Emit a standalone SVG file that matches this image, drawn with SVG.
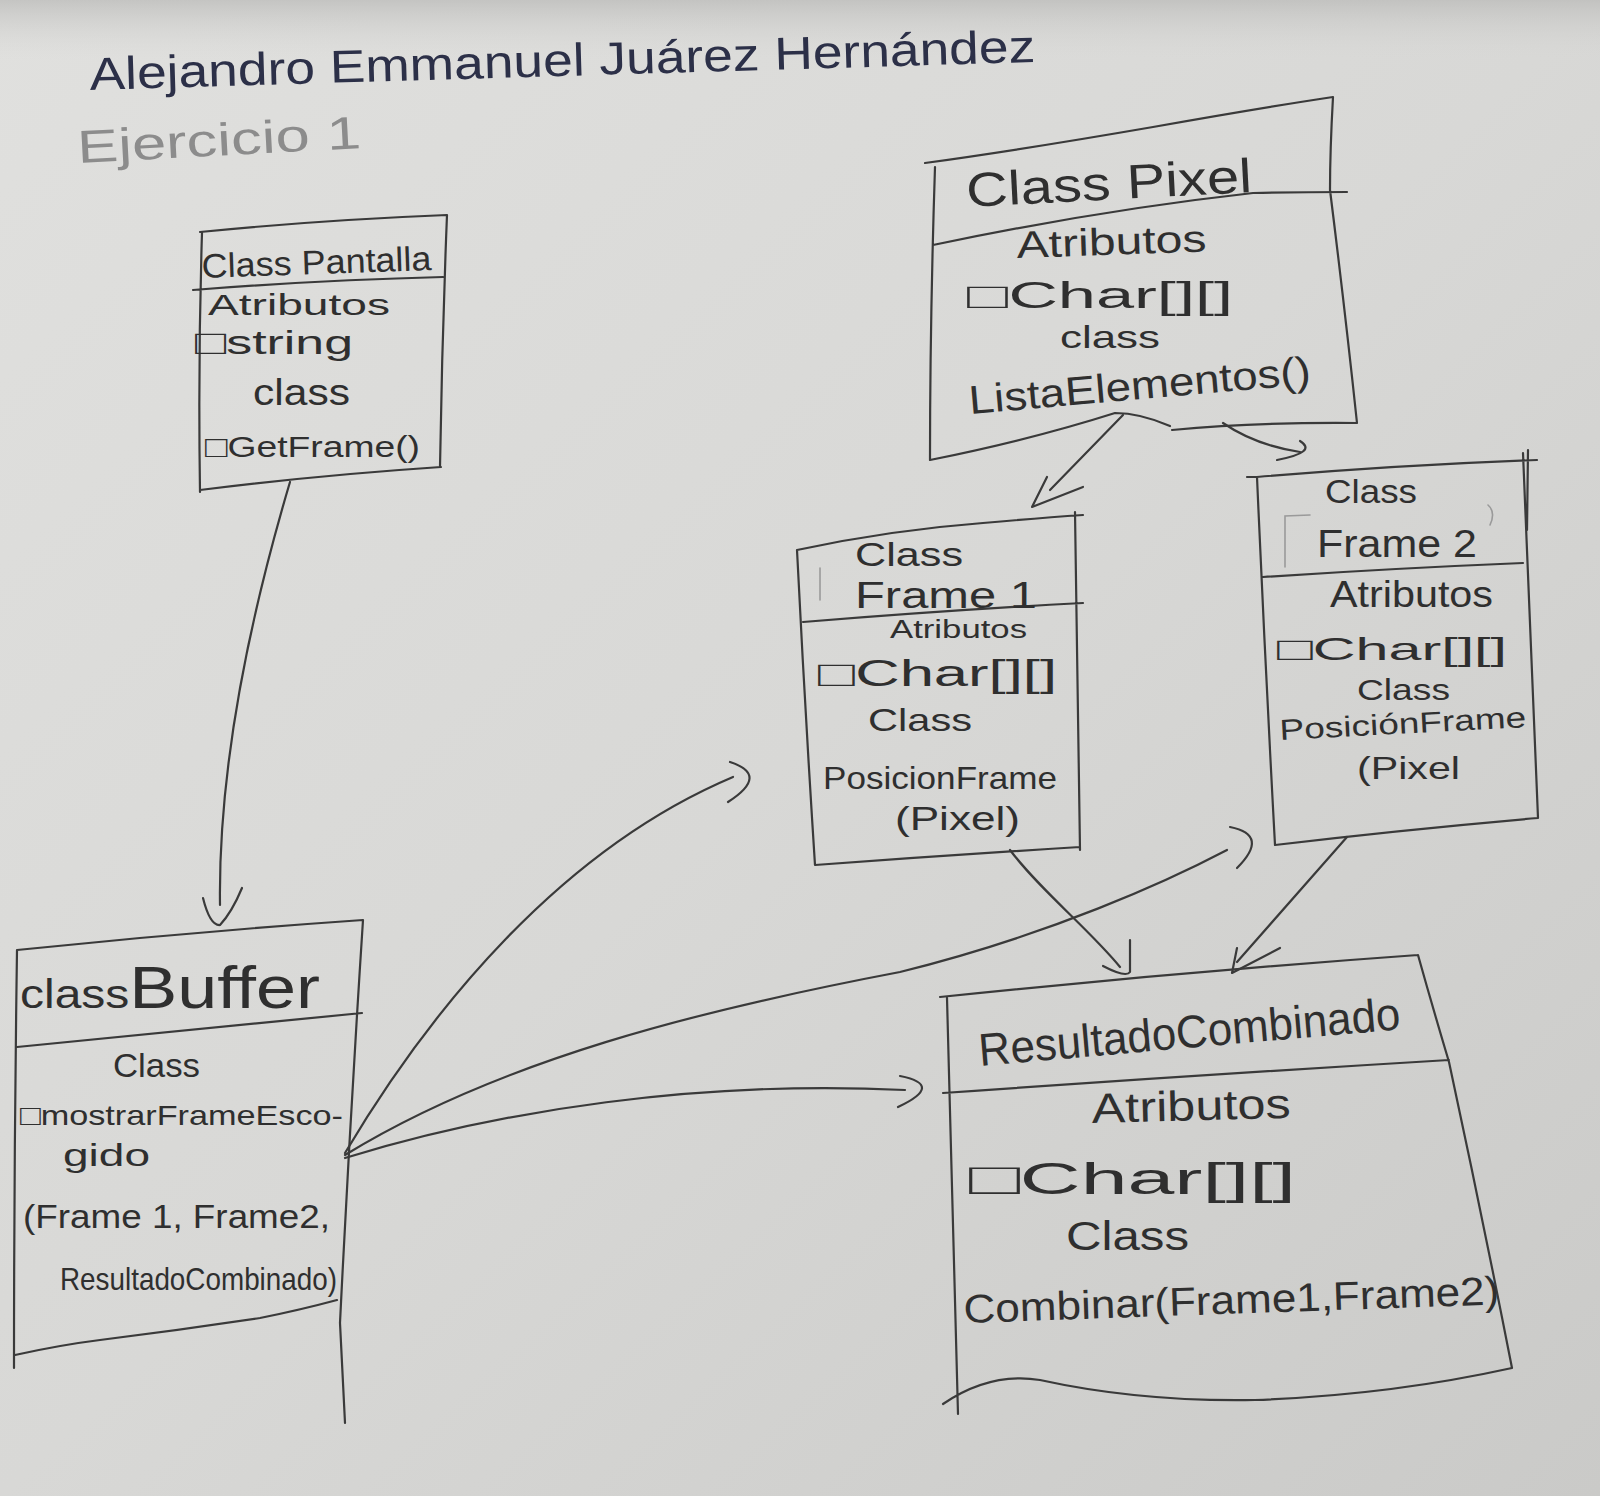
<svg xmlns="http://www.w3.org/2000/svg" width="1600" height="1496" viewBox="0 0 1600 1496">
  <defs>
    <linearGradient id="paper" x1="0" y1="0" x2="1" y2="1">
      <stop offset="0" stop-color="#e0e0de"/>
      <stop offset="0.5" stop-color="#d8d8d6"/>
      <stop offset="1" stop-color="#cacac8"/>
    </linearGradient>
    <linearGradient id="shade" x1="0" y1="0" x2="0" y2="1">
      <stop offset="0" stop-color="#b9b9b7" stop-opacity="0.7"/>
      <stop offset="1" stop-color="#d8d8d6" stop-opacity="0"/>
    </linearGradient>
    <style>
      .ln { fill: none; stroke: #3a3a3a; stroke-width: 2.2; stroke-linecap: round; stroke-linejoin: round; }
      .faint { fill: none; stroke: #9a9a9a; stroke-width: 1.6; stroke-linecap: round; }
      .tx { font-family: "Liberation Sans", "DejaVu Sans", sans-serif; fill: #2f2f2f; }
      .title { font-family: "Liberation Sans", "DejaVu Sans", sans-serif; fill: #2c3048; }
      .pencil { font-family: "Liberation Sans", "DejaVu Sans", sans-serif; fill: #8c8c8c; }
    </style>
  </defs>

  <rect x="0" y="0" width="1600" height="1496" fill="url(#paper)"/>
  <rect x="0" y="0" width="1600" height="60" fill="url(#shade)"/>

  <!-- Header texts -->
  <g id="header">
    <text class="title" x="90" y="90" font-size="46" textLength="946" lengthAdjust="spacingAndGlyphs" transform="rotate(-1.7 90 90)">Alejandro Emmanuel Juárez Hernández</text>
    <text class="pencil" x="78" y="163" font-size="46" textLength="284" lengthAdjust="spacingAndGlyphs" transform="rotate(-3 78 163)">Ejercicio 1</text>
  </g>

  <!-- Class Pantalla -->
  <g id="pantalla">
    <path class="ln" d="M200,232 Q320,220 447,215 M202,233 Q198,360 200,492 M447,215 Q442,340 440,467 M200,490 Q320,475 441,467 M193,290 Q320,280 443,277"/>
    <text class="tx" x="202" y="278" font-size="34" textLength="230" lengthAdjust="spacingAndGlyphs" transform="rotate(-2 202 278)">Class Pantalla</text>
    <text class="tx" x="208" y="315" font-size="30" textLength="182" lengthAdjust="spacingAndGlyphs">Atributos</text>
    <text class="tx" x="195" y="354" font-size="34" textLength="158" lengthAdjust="spacingAndGlyphs">□string</text>
    <text class="tx" x="253" y="405" font-size="36" textLength="97" lengthAdjust="spacingAndGlyphs">class</text>
    <text class="tx" x="205" y="457" font-size="30" textLength="215" lengthAdjust="spacingAndGlyphs">□GetFrame()</text>
  </g>

  <!-- Class Pixel -->
  <g id="pixel">
    <path class="ln" d="M925,163 Q1020,150 1153,127 Q1260,108 1333,97 M935,167 Q930,320 930,460 M1333,97 Q1330,150 1330,190 Q1345,310 1357,423 M930,460 Q1030,440 1115,413 Q1140,413 1170,426 M1172,430 Q1260,422 1357,423 M933,245 Q1100,210 1253,193 Q1300,192 1347,192"/>
    <text class="tx" x="967" y="207" font-size="48" textLength="286" lengthAdjust="spacingAndGlyphs" transform="rotate(-3 967 207)">Class Pixel</text>
    <text class="tx" x="1017" y="258" font-size="38" textLength="190" lengthAdjust="spacingAndGlyphs" transform="rotate(-2 1017 258)">Atributos</text>
    <text class="tx" x="967" y="308" font-size="36" textLength="266" lengthAdjust="spacingAndGlyphs">□Char[][]</text>
    <text class="tx" x="1060" y="348" font-size="32" textLength="100" lengthAdjust="spacingAndGlyphs">class</text>
    <text class="tx" x="970" y="414" font-size="40" textLength="343" lengthAdjust="spacingAndGlyphs" transform="rotate(-5 970 414)">ListaElementos()</text>
  </g>

  <!-- Class Frame 1 -->
  <g id="frame1">
    <path class="ln" d="M797,550 Q890,530 983,523 Q1040,518 1083,515 M797,550 Q805,710 815,865 M1075,512 Q1078,680 1080,850 M815,865 Q950,855 1080,847 M803,622 Q950,610 1083,603"/>
    <path class="faint" d="M820,568 L820,600"/>
    <text class="tx" x="855" y="566" font-size="34" textLength="108" lengthAdjust="spacingAndGlyphs">Class</text>
    <text class="tx" x="855" y="608" font-size="36" textLength="182" lengthAdjust="spacingAndGlyphs">Frame 1</text>
    <text class="tx" x="890" y="638" font-size="26" textLength="137" lengthAdjust="spacingAndGlyphs">Atributos</text>
    <text class="tx" x="818" y="686" font-size="36" textLength="239" lengthAdjust="spacingAndGlyphs">□Char[][]</text>
    <text class="tx" x="868" y="731" font-size="32" textLength="104" lengthAdjust="spacingAndGlyphs">Class</text>
    <text class="tx" x="823" y="789" font-size="32" textLength="234" lengthAdjust="spacingAndGlyphs">PosicionFrame</text>
    <text class="tx" x="895" y="830" font-size="34" textLength="125" lengthAdjust="spacingAndGlyphs">(Pixel)</text>
  </g>

  <!-- Class Frame 2 -->
  <g id="frame2">
    <path class="ln" d="M1247,477 L1257,477 Q1400,465 1537,460 M1257,477 Q1265,660 1275,845 M1523,453 Q1530,640 1538,818 M1528,450 L1527,530 M1275,845 Q1400,830 1538,818 M1263,577 Q1400,568 1523,563"/>
    <path class="faint" d="M1285,567 L1285,516 L1310,515 M1488,505 Q1496,512 1490,525"/>
    <text class="tx" x="1325" y="503" font-size="34" textLength="92" lengthAdjust="spacingAndGlyphs">Class</text>
    <text class="tx" x="1317" y="557" font-size="38" textLength="160" lengthAdjust="spacingAndGlyphs">Frame 2</text>
    <text class="tx" x="1330" y="607" font-size="36" textLength="163" lengthAdjust="spacingAndGlyphs">Atributos</text>
    <text class="tx" x="1277" y="660" font-size="32" textLength="230" lengthAdjust="spacingAndGlyphs">□Char[][]</text>
    <text class="tx" x="1357" y="700" font-size="30" textLength="93" lengthAdjust="spacingAndGlyphs">Class</text>
    <text class="tx" x="1280" y="740" font-size="29" textLength="247" lengthAdjust="spacingAndGlyphs" transform="rotate(-3 1280 740)">PosiciónFrame</text>
    <text class="tx" x="1357" y="779" font-size="32" textLength="103" lengthAdjust="spacingAndGlyphs">(Pixel</text>
  </g>

  <!-- Class Buffer -->
  <g id="buffer">
    <path class="ln" d="M17,950 Q190,932 363,920 M17,950 Q14,1160 14,1368 M363,920 Q350,1120 340,1323 L345,1423 M15,1355 Q60,1345 100,1340 Q180,1330 260,1318 Q300,1310 337,1300 M17,1047 Q190,1030 362,1013"/>
    <text class="tx" x="20" y="1008" font-size="40" textLength="300" lengthAdjust="spacingAndGlyphs">class<tspan font-size="60">Buffer</tspan></text>
    <text class="tx" x="113" y="1077" font-size="34" textLength="87" lengthAdjust="spacingAndGlyphs">Class</text>
    <text class="tx" x="20" y="1125" font-size="28" textLength="323" lengthAdjust="spacingAndGlyphs">□mostrarFrameEsco-</text>
    <text class="tx" x="63" y="1166" font-size="32" textLength="87" lengthAdjust="spacingAndGlyphs">gido</text>
    <text class="tx" x="23" y="1228" font-size="34" textLength="307" lengthAdjust="spacingAndGlyphs">(Frame 1, Frame2,</text>
    <text class="tx" x="60" y="1290" font-size="32" textLength="277" lengthAdjust="spacingAndGlyphs">ResultadoCombinado)</text>
  </g>

  <!-- Resultado Combinado -->
  <g id="resultado">
    <path class="ln" d="M940,997 Q1180,972 1418,955 M947,998 Q952,1200 958,1414 M1418,955 Q1432,1005 1449,1062 Q1482,1215 1512,1368 M943,1404 Q990,1372 1040,1380 Q1140,1402 1255,1400 Q1390,1395 1512,1368 M943,1093 Q1200,1075 1449,1060"/>
    <text class="tx" x="980" y="1066" font-size="46" textLength="423" lengthAdjust="spacingAndGlyphs" transform="rotate(-5 980 1066)">ResultadoCombinado</text>
    <text class="tx" x="1092" y="1123" font-size="42" textLength="199" lengthAdjust="spacingAndGlyphs" transform="rotate(-1.5 1092 1123)">Atributos</text>
    <text class="tx" x="969" y="1194" font-size="44" textLength="327" lengthAdjust="spacingAndGlyphs">□Char[][]</text>
    <text class="tx" x="1066" y="1250" font-size="40" textLength="123" lengthAdjust="spacingAndGlyphs">Class</text>
    <text class="tx" x="964" y="1323" font-size="40" textLength="536" lengthAdjust="spacingAndGlyphs" transform="rotate(-2 964 1323)">Combinar(Frame1,Frame2)</text>
  </g>

  <!-- Connectors -->
  <g id="connectors">
    <!-- Pantalla -> Buffer -->
    <path class="ln" d="M290,482 C252,610 218,760 220,905"/>
    <path class="ln" d="M203,898 Q210,926 220,925 Q232,912 242,888"/>
    <!-- Pixel -> Frame 1 -->
    <path class="ln" d="M1123,415 L1050,490"/>
    <path class="ln" d="M1047,477 L1032,507 L1083,487"/>
    <!-- Pixel -> Frame 2 -->
    <path class="ln" d="M1223,423 Q1255,445 1300,452"/>
    <path class="ln" d="M1300,441 Q1318,452 1277,460"/>
    <!-- Buffer -> Frame 1 -->
    <path class="ln" d="M345,1153 C430,1010 560,850 733,777"/>
    <path class="ln" d="M730,762 Q770,775 728,802"/>
    <!-- Buffer -> Frame 2 -->
    <path class="ln" d="M345,1155 C500,1060 700,1010 900,972 C1050,935 1170,880 1227,850"/>
    <path class="ln" d="M1230,827 Q1270,835 1237,868"/>
    <!-- Buffer -> Resultado -->
    <path class="ln" d="M345,1158 C500,1110 700,1080 905,1090"/>
    <path class="ln" d="M900,1076 Q945,1085 898,1107"/>
    <!-- Frame 1 -> Resultado -->
    <path class="ln" d="M1010,850 C1040,890 1090,930 1120,967"/>
    <path class="ln" d="M1130,940 L1130,972 Q1126,978 1103,966"/>
    <!-- Frame 2 -> Resultado -->
    <path class="ln" d="M1347,837 L1237,962"/>
    <path class="ln" d="M1237,948 L1232,973 L1280,948"/>
  </g>
</svg>
